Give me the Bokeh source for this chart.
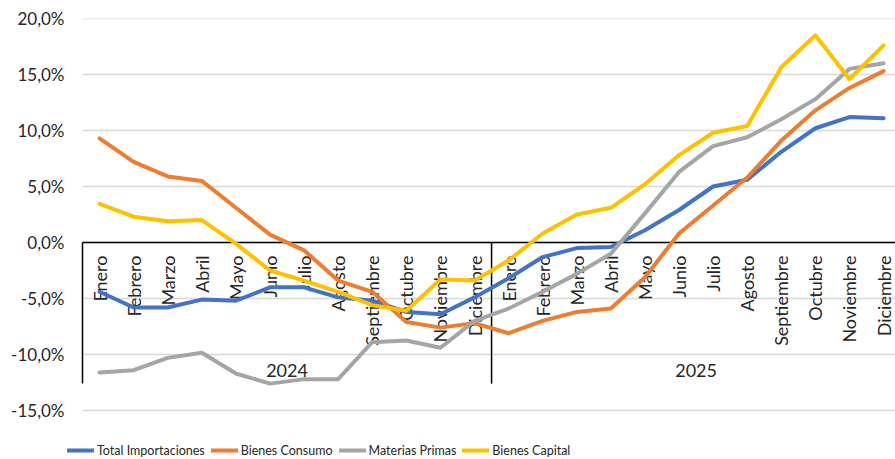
import numpy as np
from bokeh.plotting import figure
from bokeh.models import (ColumnDataSource, Range1d, FixedTicker, Legend, LegendItem,
                          CustomJSTickFormatter)
from bokeh.core.properties import value
from bokeh.embed import file_html
from bokeh.resources import INLINE

# ---------------- data ----------------
months = ["Enero", "Febrero", "Marzo", "Abril", "Mayo", "Junio", "Julio", "Agosto",
          "Septiembre", "Octubre", "Noviembre", "Diciembre"]
years = ["2024", "2025"]

total_importaciones = [-4.4, -5.8, -5.8, -5.1, -5.2, -4.0, -4.0, -4.9, -5.2, -6.2, -6.4, -4.9,
                       -3.2, -1.3, -0.5, -0.4, 1.1, 2.9, 5.0, 5.6, 8.1, 10.2, 11.2, 11.1]
bienes_consumo = [9.3, 7.2, 5.9, 5.5, 3.1, 0.7, -0.7, -3.4, -4.4, -7.1, -7.6, -7.2,
                  -8.1, -7.0, -6.2, -5.9, -3.1, 0.8, 3.3, 5.8, 9.1, 11.8, 13.8, 15.3]
materias_primas = [-11.6, -11.4, -10.3, -9.85, -11.7, -12.6, -12.2, -12.2, -8.9, -8.75, -9.4, -7.0,
                   -5.9, -4.4, -2.8, -1.0, 2.6, 6.3, 8.6, 9.4, 11.0, 12.8, 15.5, 16.0]
bienes_capital = [3.45, 2.3, 1.9, 2.0, -0.1, -2.5, -3.4, -4.4, -5.6, -6.1, -3.3, -3.4,
                  -1.6, 0.8, 2.5, 3.1, 5.2, 7.8, 9.8, 10.4, 15.65, 18.5, 14.6, 17.6]

series_names = ["Total Importaciones", "Bienes Consumo", "Materias Primas", "Bienes Capital"]
series_colors = ["#4472C4", "#ED7D31", "#A5A5A5", "#FFC000"]
y_ticks = [-15, -10, -5, 0, 5, 10, 15, 20]

# ---------------- layout helpers ----------------
FONT = "Lato"
TXT = "#262626"
n = len(months) * len(years)
xs = [i + 0.5 for i in range(n)]
X_END = 23.85            # right edge of the visible plot area (in category units)
X_START = -0.44          # small room on the left for the legend
Y_BOTTOM = -19.375       # room below the axis for the legend

p = figure(width=895, height=459, output_backend="svg", toolbar_location=None,
           x_range=Range1d(X_START, X_END), y_range=Range1d(Y_BOTTOM, y_ticks[-1]),
           x_axis_type=None, min_border_left=67, min_border_right=0,
           min_border_top=18, min_border_bottom=0)
p.outline_line_color = None
p.background_fill_color = "white"
p.border_fill_color = "white"
p.grid.visible = False

ax = p.yaxis[0]
ax.ticker = FixedTicker(ticks=y_ticks)
ax.formatter = CustomJSTickFormatter(code="return tick.toFixed(1).replace('.', ',') + '%';")
ax.axis_line_color = None
ax.major_tick_line_color = None
ax.minor_tick_line_color = None
ax.major_tick_out = 0
ax.major_label_standoff = 3
ax.major_label_text_font = FONT
ax.major_label_text_font_size = "17px"
ax.major_label_text_color = TXT

# horizontal gridlines (from the category axis start to the right edge)
p.segment(x0=[0] * len(y_ticks), y0=y_ticks, x1=[X_END] * len(y_ticks), y1=y_ticks,
          line_color="#D9D9D9", line_width=1.3)

# category axis drawn at y = 0
p.segment(x0=[0], y0=[0], x1=[X_END], y1=[0], line_color="black", line_width=1.3)
bounds = [i * len(months) for i in range(len(years))]
p.segment(x0=bounds, y0=[0] * len(bounds), x1=bounds, y1=[-12.6] * len(bounds),
          line_color="black", line_width=1.5)

lab_src = ColumnDataSource(dict(x=xs, y=[0] * n, text=months * len(years)))
p.text(x="x", y="y", text="text", source=lab_src, angle=np.pi / 2,
       text_align="right", text_baseline="middle", y_offset=13,
       text_font=value(FONT), text_font_size="18px", text_color=TXT)

yr_src = ColumnDataSource(dict(x=[b + len(months) / 2 for b in bounds],
                               y=[-11.4] * len(years), text=years))
p.text(x="x", y="y", text="text", source=yr_src, text_align="center",
       text_baseline="middle", text_font=value(FONT), text_font_size="18px",
       text_color=TXT)

renderers = []
for name, vals, col in zip(series_names,
                           [total_importaciones, bienes_consumo, materias_primas, bienes_capital],
                           series_colors):
    r = p.line(xs, vals, line_color=col, line_width=4, line_join="round", line_cap="round")
    renderers.append(r)

legend = Legend(items=[LegendItem(label=nm, renderers=[r]) for nm, r in zip(series_names, renderers)],
                orientation="horizontal", location=(0, 1),
                glyph_width=27, glyph_height=16, label_standoff=3, spacing=6,
                padding=0, margin=0, border_line_color=None, background_fill_alpha=0,
                label_text_font=FONT, label_text_font_size="12.5px", label_text_color=TXT)
p.add_layout(legend, "center")

open("out.html", "w").write(file_html(p, INLINE))
